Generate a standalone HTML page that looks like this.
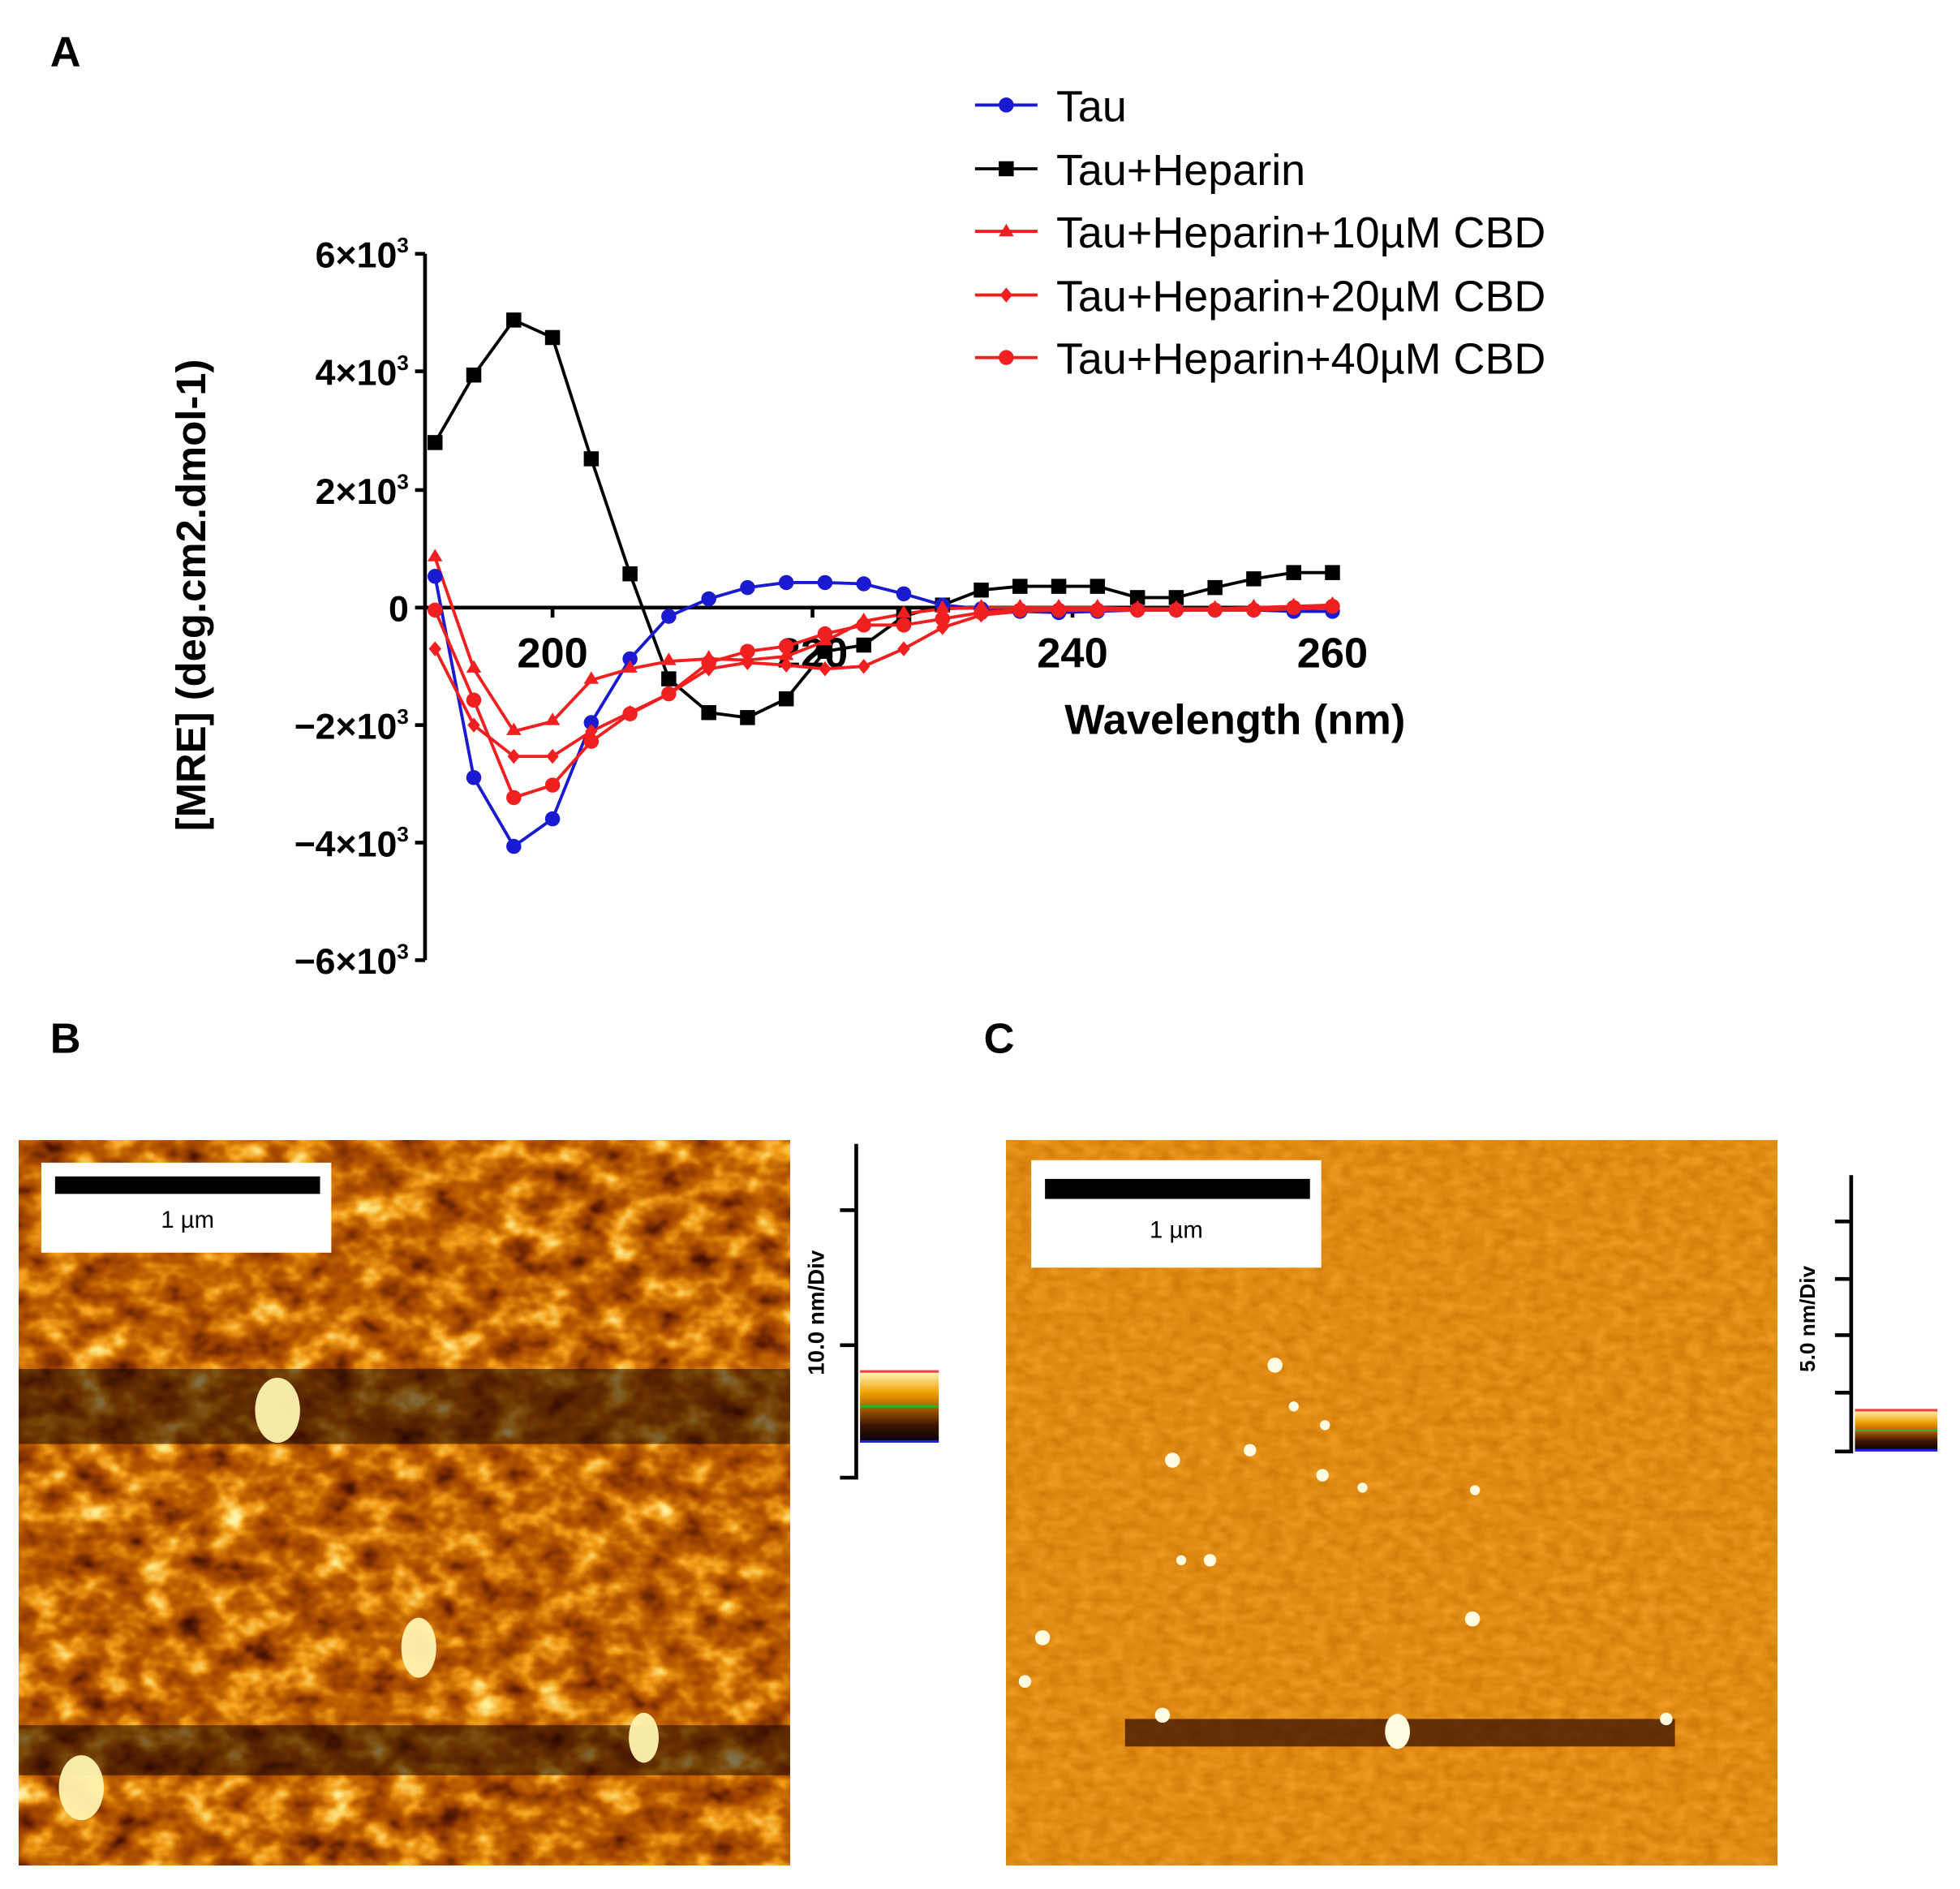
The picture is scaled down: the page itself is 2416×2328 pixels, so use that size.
<!DOCTYPE html>
<html><head><meta charset="utf-8"><style>html,body{margin:0;padding:0;background:#fff}svg{display:block}</style></head>
<body>
<svg width="2416" height="2328" viewBox="0 0 1568 1511" xmlns="http://www.w3.org/2000/svg" font-family="Liberation Sans, sans-serif">
<defs>
<filter id="fb" x="0" y="0" width="100%" height="100%" color-interpolation-filters="sRGB">
<feTurbulence type="fractalNoise" baseFrequency="0.035 0.045" numOctaves="3" seed="7"/>
<feColorMatrix type="matrix" values="1 0 0 0 0  1 0 0 0 0  1 0 0 0 0  0 0 0 0 1"/>
<feComponentTransfer>
<feFuncR type="table" tableValues="0.1 0.35 0.6 0.75 0.95 1 1"/>
<feFuncG type="table" tableValues="0.0 0.1 0.25 0.38 0.62 0.92 1"/>
<feFuncB type="table" tableValues="0 0 0 0 0.1 0.55 0.9"/>
</feComponentTransfer>
</filter>
<filter id="fc" x="0" y="0" width="100%" height="100%" color-interpolation-filters="sRGB">
<feTurbulence type="fractalNoise" baseFrequency="0.08 0.12" numOctaves="2" seed="3"/>
<feColorMatrix type="matrix" values="1 0 0 0 0  1 0 0 0 0  1 0 0 0 0  0 0 0 0 1"/>
<feComponentTransfer>
<feFuncR type="table" tableValues="0.8 0.88 0.96"/>
<feFuncG type="table" tableValues="0.45 0.55 0.64"/>
<feFuncB type="table" tableValues="0.02 0.08 0.15"/>
</feComponentTransfer>
</filter>
<linearGradient id="cb" x1="0" y1="0" x2="0" y2="1">
<stop offset="0" stop-color="#fff8c0"/><stop offset="0.3" stop-color="#f0a000"/><stop offset="0.5" stop-color="#b06000"/><stop offset="0.75" stop-color="#401500"/><stop offset="1" stop-color="#000"/>
</linearGradient>
</defs>

<g font-weight="bold" font-size="34">
<text x="40" y="53">A</text><text x="40" y="842">B</text><text x="787" y="842">C</text>
</g>

<g stroke="#000" stroke-width="3" fill="none">
<path d="M340 203V768"/>
<path d="M340 486H1066"/>
<path d="M332 203H340M332 297H340M332 392H340M332 486H340M332 580H340M332 674H340M332 768H340"/>
<path d="M442 486V494M650 486V494M858 486V494M1066 486V494"/>
</g>
<g font-size="29" font-weight="bold" text-anchor="end">
<text x="327" y="214">6×10<tspan font-size="17" dy="-12">3</tspan></text>
<text x="327" y="308">4×10<tspan font-size="17" dy="-12">3</tspan></text>
<text x="327" y="403">2×10<tspan font-size="17" dy="-12">3</tspan></text>
<text x="327" y="497">0</text>
<text x="327" y="591">−2×10<tspan font-size="17" dy="-12">3</tspan></text>
<text x="327" y="685">−4×10<tspan font-size="17" dy="-12">3</tspan></text>
<text x="327" y="779">−6×10<tspan font-size="17" dy="-12">3</tspan></text>
</g>
<g font-size="34" font-weight="bold" text-anchor="middle">
<text x="442" y="534">200</text><text x="650" y="534">220</text><text x="858" y="534">240</text><text x="1066" y="534">260</text>
<text x="988" y="587">Wavelength (nm)</text>
<text transform="translate(164,476) rotate(-90)" font-size="33">[MRE] (deg.cm2.dmol-1)</text>
</g>

<g fill="none" stroke-width="2.5">
<polyline stroke="#000" points="348,354 379,300 411,256 442,270 473,367 504,459 535,543 567,570 598,574 629,559 660,521 691,516 723,493 754,484 785,472 816,469 847,469 878,469 910,478 941,478 972,470 1003,463 1035,458 1066,458"/>
<polyline stroke="#1a1ad0" points="348,461 379,622 411,677 442,655 473,578 504,527 535,493 567,479 598,470 629,466 660,466 691,467 723,475 754,484 785,487 816,489 847,490 878,489 910,488 941,488 972,488 1003,488 1035,489 1066,489"/>
<polyline stroke="#f02020" points="348,446 379,535 411,585 442,577 473,544 504,535 535,529 567,527 598,528 629,525 660,513 691,497 723,491 754,487 785,486 816,486 847,486 878,486 910,487 941,487 972,487 1003,486 1035,485 1066,484"/>
<polyline stroke="#f02020" points="348,519 379,580 411,605 442,605 473,585 504,570 535,555 567,535 598,530 629,532 660,535 691,533 723,519 754,502 785,492 816,489 847,488 878,488 910,488 941,488 972,488 1003,488 1035,487 1066,486"/>
<polyline stroke="#f02020" points="348,488 379,560 411,638 442,628 473,593 504,571 535,555 567,530 598,521 629,517 660,507 691,500 723,500 754,495 785,490 816,488 847,488 878,488 910,488 941,488 972,488 1003,488 1035,486 1066,485"/>
</g>
<g fill="#000">
<rect x="342" y="348" width="12" height="12"/><rect x="373" y="294" width="12" height="12"/><rect x="405" y="250" width="12" height="12"/><rect x="436" y="264" width="12" height="12"/><rect x="467" y="361" width="12" height="12"/><rect x="498" y="453" width="12" height="12"/><rect x="529" y="537" width="12" height="12"/><rect x="561" y="564" width="12" height="12"/><rect x="592" y="568" width="12" height="12"/><rect x="623" y="553" width="12" height="12"/><rect x="654" y="515" width="12" height="12"/><rect x="685" y="510" width="12" height="12"/><rect x="717" y="487" width="12" height="12"/><rect x="748" y="478" width="12" height="12"/><rect x="779" y="466" width="12" height="12"/><rect x="810" y="463" width="12" height="12"/><rect x="841" y="463" width="12" height="12"/><rect x="872" y="463" width="12" height="12"/><rect x="904" y="472" width="12" height="12"/><rect x="935" y="472" width="12" height="12"/><rect x="966" y="464" width="12" height="12"/><rect x="997" y="457" width="12" height="12"/><rect x="1029" y="452" width="12" height="12"/><rect x="1060" y="452" width="12" height="12"/></g>
<g fill="#1a1ad0">
<circle cx="348" cy="461" r="6"/><circle cx="379" cy="622" r="6"/><circle cx="411" cy="677" r="6"/><circle cx="442" cy="655" r="6"/><circle cx="473" cy="578" r="6"/><circle cx="504" cy="527" r="6"/><circle cx="535" cy="493" r="6"/><circle cx="567" cy="479" r="6"/><circle cx="598" cy="470" r="6"/><circle cx="629" cy="466" r="6"/><circle cx="660" cy="466" r="6"/><circle cx="691" cy="467" r="6"/><circle cx="723" cy="475" r="6"/><circle cx="754" cy="484" r="6"/><circle cx="785" cy="487" r="6"/><circle cx="816" cy="489" r="6"/><circle cx="847" cy="490" r="6"/><circle cx="878" cy="489" r="6"/><circle cx="910" cy="488" r="6"/><circle cx="941" cy="488" r="6"/><circle cx="972" cy="488" r="6"/><circle cx="1003" cy="488" r="6"/><circle cx="1035" cy="489" r="6"/><circle cx="1066" cy="489" r="6"/>
</g>
<g fill="#f02020">
<circle cx="348" cy="488" r="6"/><circle cx="379" cy="560" r="6"/><circle cx="411" cy="638" r="6"/><circle cx="442" cy="628" r="6"/><circle cx="473" cy="593" r="6"/><circle cx="504" cy="571" r="6"/><circle cx="535" cy="555" r="6"/><circle cx="567" cy="530" r="6"/><circle cx="598" cy="521" r="6"/><circle cx="629" cy="517" r="6"/><circle cx="660" cy="507" r="6"/><circle cx="691" cy="500" r="6"/><circle cx="723" cy="500" r="6"/><circle cx="754" cy="495" r="6"/><circle cx="785" cy="490" r="6"/><circle cx="816" cy="488" r="6"/><circle cx="847" cy="488" r="6"/><circle cx="878" cy="488" r="6"/><circle cx="910" cy="488" r="6"/><circle cx="941" cy="488" r="6"/><circle cx="972" cy="488" r="6"/><circle cx="1003" cy="488" r="6"/><circle cx="1035" cy="486" r="6"/><circle cx="1066" cy="485" r="6"/>
<path d="M348 439l6 10h-12zM379 528l6 10h-12zM411 578l6 10h-12zM442 570l6 10h-12zM473 537l6 10h-12zM504 528l6 10h-12zM535 522l6 10h-12zM567 520l6 10h-12zM598 521l6 10h-12zM629 518l6 10h-12zM660 506l6 10h-12zM691 490l6 10h-12zM723 484l6 10h-12zM754 480l6 10h-12zM785 479l6 10h-12zM816 479l6 10h-12zM847 479l6 10h-12zM878 479l6 10h-12zM910 480l6 10h-12zM941 480l6 10h-12zM972 480l6 10h-12zM1003 479l6 10h-12zM1035 478l6 10h-12zM1066 477l6 10h-12z"/>
<path d="M348 513l5 6-5 6-5-6zM379 574l5 6-5 6-5-6zM411 599l5 6-5 6-5-6zM442 599l5 6-5 6-5-6zM473 579l5 6-5 6-5-6zM504 564l5 6-5 6-5-6zM535 549l5 6-5 6-5-6zM567 529l5 6-5 6-5-6zM598 524l5 6-5 6-5-6zM629 526l5 6-5 6-5-6zM660 529l5 6-5 6-5-6zM691 527l5 6-5 6-5-6zM723 513l5 6-5 6-5-6zM754 496l5 6-5 6-5-6zM785 486l5 6-5 6-5-6z"/>
</g>

<g stroke-width="2.5">
<line x1="780" y1="84" x2="830" y2="84" stroke="#1a1ad0"/><circle cx="805" cy="84" r="6" fill="#1a1ad0"/>
<line x1="780" y1="135" x2="830" y2="135" stroke="#000"/><rect x="799" y="129" width="12" height="12"/>
<line x1="780" y1="185" x2="830" y2="185" stroke="#f02020"/><path d="M805 179l6 10h-12z" fill="#f02020"/>
<line x1="780" y1="236" x2="830" y2="236" stroke="#f02020"/><path d="M805 230l5 6-5 6-5-6z" fill="#f02020"/>
<line x1="780" y1="286" x2="830" y2="286" stroke="#f02020"/><circle cx="805" cy="286" r="6" fill="#f02020"/>
</g>
<g font-size="35">
<text x="845" y="97">Tau</text><text x="845" y="148">Tau+Heparin</text><text x="845" y="198">Tau+Heparin+10µM CBD</text><text x="845" y="249">Tau+Heparin+20µM CBD</text><text x="845" y="299">Tau+Heparin+40µM CBD</text>
</g>

<!-- panel B -->
<rect x="15" y="912" width="617" height="580" filter="url(#fb)"/>
<g fill="#1a0500" opacity="0.55">
<rect x="15" y="1095" width="617" height="60"/><rect x="15" y="1380" width="617" height="40"/>
</g>
<g fill="#fff3b0" opacity="0.95">
<ellipse cx="222" cy="1128" rx="18" ry="26"/><ellipse cx="335" cy="1318" rx="14" ry="24"/><ellipse cx="65" cy="1430" rx="18" ry="26"/><ellipse cx="515" cy="1390" rx="12" ry="20"/>
</g>
<rect x="33" y="930" width="232" height="72" fill="#fff"/>
<rect x="44" y="941" width="212" height="14" fill="#000"/>
<text x="150" y="982" font-size="19" text-anchor="middle">1 µm</text>
<g stroke="#000" stroke-width="3" fill="none"><path d="M685 915V1182H672M672 968H685M672 1076H685"/></g>
<text transform="translate(659,1050) rotate(-90)" font-size="18" font-weight="bold" text-anchor="middle">10.0 nm/Div</text>
<rect x="688" y="1097" width="63" height="57" fill="url(#cb)"/>
<rect x="688" y="1096" width="63" height="2" fill="#f04040"/><rect x="688" y="1124" width="63" height="2" fill="#30b030"/><rect x="688" y="1152" width="63" height="2" fill="#2020e0"/>

<!-- panel C -->
<rect x="805" y="912" width="617" height="580" filter="url(#fc)"/>
<rect x="900" y="1375" width="440" height="22" fill="#3a1000" opacity="0.75"/>
<g fill="#fffbe0">
<ellipse cx="1118" cy="1385" rx="10" ry="14"/><circle cx="1020" cy="1092" r="6"/><circle cx="938" cy="1168" r="6"/><circle cx="1178" cy="1295" r="6"/><circle cx="930" cy="1372" r="6"/><circle cx="1333" cy="1375" r="5"/><circle cx="834" cy="1310" r="6"/><circle cx="1058" cy="1180" r="5"/><circle cx="1090" cy="1190" r="4"/><circle cx="968" cy="1248" r="5"/><circle cx="945" cy="1248" r="4"/><circle cx="1180" cy="1192" r="4"/><circle cx="820" cy="1345" r="5"/><circle cx="1035" cy="1125" r="4"/><circle cx="1060" cy="1140" r="4"/><circle cx="1000" cy="1160" r="5"/>
</g>
<rect x="825" y="928" width="232" height="86" fill="#fff"/>
<rect x="836" y="943" width="212" height="16" fill="#000"/>
<text x="941" y="990" font-size="19" text-anchor="middle">1 µm</text>
<g stroke="#000" stroke-width="3" fill="none"><path d="M1481 940V1161H1468M1468 977H1481M1468 1023H1481M1468 1068H1481M1468 1114H1481"/></g>
<text transform="translate(1452,1055) rotate(-90)" font-size="17" font-weight="bold" text-anchor="middle">5.0 nm/Div</text>
<rect x="1484" y="1128" width="66" height="33" fill="url(#cb)"/>
<rect x="1484" y="1127" width="66" height="2" fill="#f04040"/><rect x="1484" y="1143" width="66" height="2" fill="#30b030"/><rect x="1484" y="1159" width="66" height="2" fill="#2020e0"/>
</svg>
</body></html>
